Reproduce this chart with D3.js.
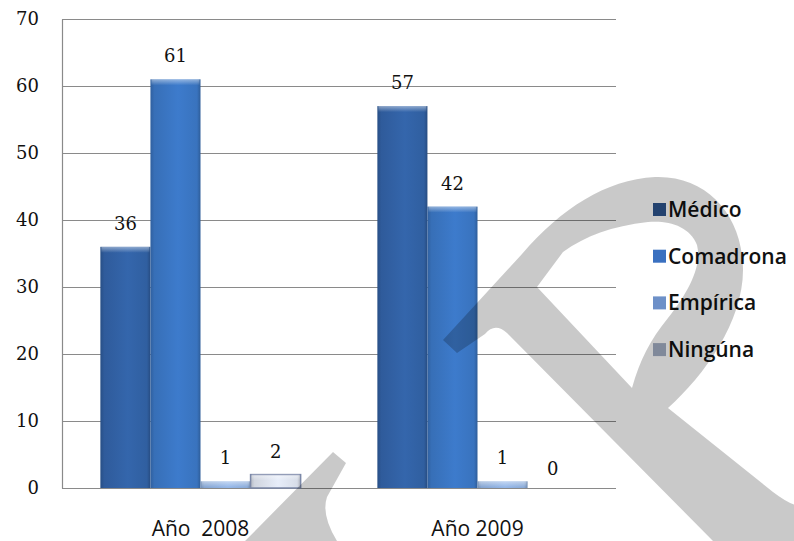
<!DOCTYPE html>
<html>
<head>
<meta charset="utf-8">
<script src="https://cdn.jsdelivr.net/npm/d3@7"></script>
<style>
  html, body { margin: 0; padding: 0; background: #fff; }
  svg { display: block; }
  .serif { font-family: "DejaVu Serif", serif; }
  .sans { font-family: "Open Sans", "Noto Sans", sans-serif; white-space: pre; }
</style>
</head>
<body>
<svg id="chart" width="794" height="541"></svg>
<script>
// chart values
var categories = ["Año  2008", "Año 2009"];
var series = ["Médico", "Comadrona", "Empírica", "Ningúna"];
var medico = [36, 57];
var comadrona = [61, 42];
var empirica = [1, 1];
var ninguna = [2, 0];
var yTicks = [0, 10, 20, 30, 40, 50, 60, 70];

var barColors = ["#3262a6", "#3b77c5", "#8fb1e1", "#dfe5f0"];
var swatchColors = ["#2d548d", "#3a70c0", "#6d90c8", "#a3aec4"];

function whenDocumentLoaded(action) {
	if (document.readyState === "loading") {
		document.addEventListener("DOMContentLoaded", action);
	} else {
		action();
	}
}

whenDocumentLoaded(() => {
	var svg = d3.select("#chart");
	var left = 62, right = 616, top = 19, bottom = 488;

	var values = [medico, comadrona, empirica, ninguna];
	var data = [];
	categories.forEach((c, ci) => {
		series.forEach((s, si) => {
			data.push({cat: c, ser: s, si: si, value: values[si][ci]});
		});
	});

	var x0 = d3.scaleBand()
		.domain(categories)
		.range([left, right])
		.paddingInner(0.277)
		.paddingOuter(0.1385);
	var x1 = d3.scaleBand()
		.domain(series)
		.range([0, x0.bandwidth()]);
	var y = d3.scaleLinear()
		.domain([0, 70])
		.range([bottom, top]);

	// gradients
	var defs = svg.append("defs");
	barColors.forEach((col, i) => {
		var c = d3.color(col);
		var g = defs.append("linearGradient")
			.attr("id", "bar" + i)
			.attr("x1", 0).attr("x2", 1).attr("y1", 0).attr("y2", 0);
		g.append("stop").attr("offset", 0).attr("stop-color", c.darker(0.6));
		g.append("stop").attr("offset", 0.08).attr("stop-color", c.darker(0.2));
		g.append("stop").attr("offset", 0.55).attr("stop-color", c.brighter(0.1));
		g.append("stop").attr("offset", 0.93).attr("stop-color", c.darker(0.1));
		g.append("stop").attr("offset", 1).attr("stop-color", c.darker(0.7));
	});
	var bev = defs.append("linearGradient")
		.attr("id", "bevel")
		.attr("x1", 0).attr("x2", 0).attr("y1", 0).attr("y2", 1);
	bev.append("stop").attr("offset", 0).attr("stop-color", "#fff").attr("stop-opacity", 0.45);
	bev.append("stop").attr("offset", 1).attr("stop-color", "#fff").attr("stop-opacity", 0);

	// y axis with gridlines
	var yAxis = d3.axisLeft(y)
		.tickValues(yTicks)
		.tickSize(-(right - left))
		.tickSizeOuter(0)
		.tickPadding(23);
	var ga = svg.append("g")
		.attr("transform", "translate(" + left + ",0)")
		.call(yAxis);
	ga.select(".domain").attr("stroke", "#8a8a8a").attr("stroke-width", 1.2);
	ga.selectAll(".tick line").attr("stroke", "#8a8a8a").attr("stroke-width", 1.2);
	ga.selectAll(".tick text")
		.attr("class", "serif")
		.attr("font-size", 18)
		.attr("fill", "#111");

	// bars
	var bars = svg.append("g").selectAll("g")
		.data(data)
		.enter().append("g");
	bars.append("rect")
		.attr("x", d => x0(d.cat) + x1(d.ser))
		.attr("y", d => y(d.value))
		.attr("width", x1.bandwidth())
		.attr("height", d => y(0) - y(d.value))
		.attr("fill", d => "url(#bar" + d.si + ")")
		.attr("stroke", d => d.si == 3 ? "#7b88a8" : "none")
		.attr("stroke-width", 1.5);
	bars.append("rect")
		.attr("x", d => x0(d.cat) + x1(d.ser) + 1)
		.attr("y", d => y(d.value))
		.attr("width", x1.bandwidth() - 2)
		.attr("height", d => Math.min(6, y(0) - y(d.value)))
		.attr("fill", "url(#bevel)");

	// value labels
	svg.append("g").selectAll("text")
		.data(data)
		.enter().append("text")
		.attr("class", "serif")
		.attr("x", d => x0(d.cat) + x1(d.ser) + x1.bandwidth() / 2)
		.attr("y", d => y(d.value) - (d.value == 0 ? 13 : 17))
		.attr("text-anchor", "middle")
		.attr("font-size", 18)
		.attr("fill", "#111")
		.text(d => d.value);

	// category labels
	svg.append("g").selectAll("text")
		.data(categories)
		.enter().append("text")
		.attr("class", "sans")
		.attr("x", d => x0(d) + x0.bandwidth() / 2)
		.attr("y", 536)
		.attr("text-anchor", "middle")
		.attr("font-size", 21)
		.attr("fill", "#111")
		.text(d => d);

	// legend
	var leg = svg.append("g").selectAll("g")
		.data(series)
		.enter().append("g")
		.attr("transform", (d, i) => "translate(653," + (210 + i * 46.7) + ")");
	leg.append("rect")
		.attr("x", 0).attr("y", -7)
		.attr("width", 13).attr("height", 13)
		.attr("fill", (d, i) => swatchColors[i]);
	leg.append("text")
		.attr("class", "sans")
		.attr("x", 15)
		.attr("y", 7)
		.attr("font-size", 21)
		.attr("font-weight", 600)
		.attr("fill", "#111")
		.text(d => d);

	// grey watermark over the picture
	var wm = svg.append("g").attr("fill", "#000").attr("fill-opacity", 0.21);
	wm.append("path")
		.attr("fill-rule", "evenodd")
		.attr("d", "M443,340 L522,254 C562,208 605,180 655,177 C707,175 742,215 743,268 " +
			"C744,320 705,375 668,408 L773,492 Q790,505 800,506 L800,541 L713,541 " +
			"L507,333 Q495,322 485,334 L457,353 Z " +
			"M537,287 L632,388 C640,360 650,340 668,318 C690,290 702,265 697,245 " +
			"C690,226 668,220 648,222 C612,226 585,236 563,252 Z");
	wm.append("path")
		.attr("d", "M333,452 L346,463 L327,497 Q321,515 337,541 L245,541 Z");
});
</script>
</body>
</html>
